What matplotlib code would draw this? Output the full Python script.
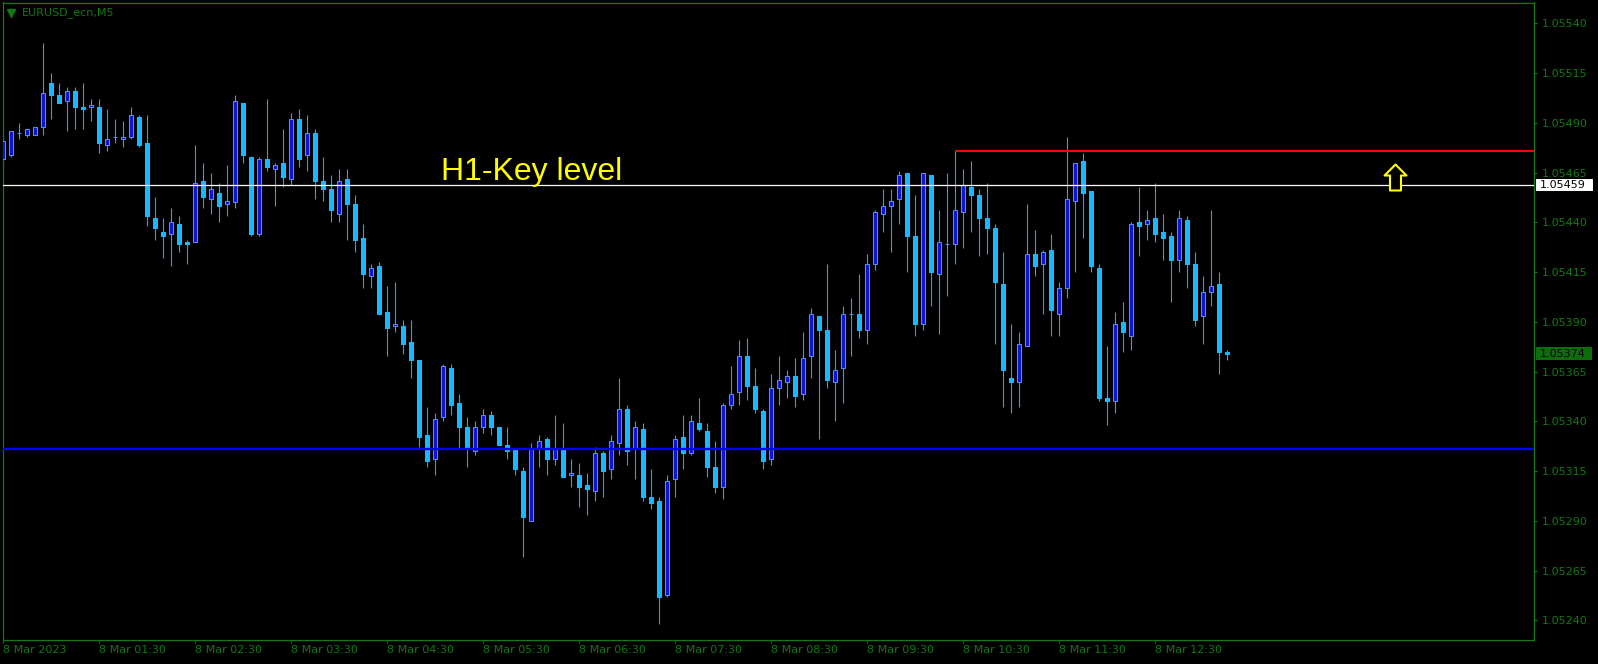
#! /usr/bin/env python3

# EURUSD_ecn M5 candles with a couple of drawn levels (MT4 style chart)

import numpy as np
import matplotlib
matplotlib.use("Agg")
import matplotlib.pyplot as plt
from matplotlib.path import Path
from matplotlib.patches import Rectangle
from matplotlib.transforms import blended_transform_factory

# candle data, one candle every 5 minutes
opens = [1.05472, 1.05474, 1.05485, 1.05484, 1.05484, 1.05488, 1.05510, 1.05504, 1.05501, 1.05506,
         1.05498, 1.05498, 1.05498, 1.05479, 1.05483, 1.05482, 1.05483, 1.05493, 1.05480, 1.05442,
         1.05435, 1.05434, 1.05439, 1.05430, 1.05430, 1.05461, 1.05452, 1.05455, 1.05449, 1.05450,
         1.05500, 1.05473, 1.05434, 1.05472, 1.05467, 1.05470, 1.05462, 1.05492, 1.05474, 1.05485,
         1.05461, 1.05457, 1.05444, 1.05462, 1.05449, 1.05432, 1.05413, 1.05418, 1.05395, 1.05388,
         1.05388, 1.05380, 1.05371, 1.05333, 1.05321, 1.05342, 1.05367, 1.05349, 1.05337, 1.05325,
         1.05337, 1.05343, 1.05337, 1.05328, 1.05326, 1.05315, 1.05290, 1.05326, 1.05331, 1.05321,
         1.05326, 1.05313, 1.05313, 1.05308, 1.05305, 1.05324, 1.05316, 1.05329, 1.05346, 1.05326,
         1.05336, 1.05302, 1.05300, 1.05253, 1.05311, 1.05332, 1.05324, 1.05339, 1.05335, 1.05317,
         1.05307, 1.05348, 1.05355, 1.05373, 1.05358, 1.05345, 1.05321, 1.05357, 1.05360, 1.05363,
         1.05354, 1.05373, 1.05393, 1.05386, 1.05360, 1.05367, 1.05394, 1.05394, 1.05386, 1.05419,
         1.05444, 1.05448, 1.05452, 1.05465, 1.05433, 1.05389, 1.05464, 1.05414, 1.05429, 1.05429,
         1.05445, 1.05458, 1.05454, 1.05442, 1.05437, 1.05409, 1.05362, 1.05360, 1.05378, 1.05424,
         1.05419, 1.05426, 1.05394, 1.05407, 1.05451, 1.05471, 1.05456, 1.05417, 1.05352, 1.05350,
         1.05390, 1.05383, 1.05440, 1.05439, 1.05442, 1.05435, 1.05433, 1.05421, 1.05441, 1.05419,
         1.05393, 1.05405, 1.05409, 1.05375]
highs = [1.05484, 1.05486, 1.05490, 1.05487, 1.05488, 1.05530, 1.05515, 1.05510, 1.05508, 1.05508,
         1.05510, 1.05502, 1.05502, 1.05497, 1.05492, 1.05491, 1.05498, 1.05494, 1.05494, 1.05453,
         1.05442, 1.05447, 1.05443, 1.05431, 1.05479, 1.05470, 1.05465, 1.05460, 1.05469, 1.05504,
         1.05500, 1.05473, 1.05473, 1.05502, 1.05470, 1.05487, 1.05495, 1.05497, 1.05494, 1.05487,
         1.05473, 1.05464, 1.05467, 1.05467, 1.05454, 1.05439, 1.05419, 1.05420, 1.05408, 1.05410,
         1.05391, 1.05391, 1.05371, 1.05347, 1.05344, 1.05369, 1.05369, 1.05354, 1.05342, 1.05340,
         1.05346, 1.05345, 1.05337, 1.05337, 1.05326, 1.05317, 1.05329, 1.05333, 1.05332, 1.05343,
         1.05339, 1.05321, 1.05319, 1.05314, 1.05327, 1.05325, 1.05333, 1.05362, 1.05348, 1.05340,
         1.05339, 1.05316, 1.05302, 1.05313, 1.05333, 1.05343, 1.05343, 1.05352, 1.05339, 1.05330,
         1.05349, 1.05368, 1.05381, 1.05382, 1.05367, 1.05346, 1.05364, 1.05373, 1.05366, 1.05372,
         1.05385, 1.05397, 1.05393, 1.05419, 1.05376, 1.05398, 1.05402, 1.05414, 1.05424, 1.05446,
         1.05457, 1.05457, 1.05466, 1.05465, 1.05454, 1.05465, 1.05464, 1.05446, 1.05465, 1.05476,
         1.05467, 1.05471, 1.05457, 1.05460, 1.05439, 1.05425, 1.05389, 1.05385, 1.05449, 1.05436,
         1.05426, 1.05434, 1.05410, 1.05483, 1.05470, 1.05475, 1.05456, 1.05419, 1.05378, 1.05395,
         1.05400, 1.05440, 1.05458, 1.05446, 1.05460, 1.05444, 1.05435, 1.05446, 1.05443, 1.05425,
         1.05413, 1.05446, 1.05415, 1.05376]
lows = [1.05468, 1.05473, 1.05482, 1.05483, 1.05484, 1.05484, 1.05492, 1.05500, 1.05486, 1.05487,
        1.05487, 1.05491, 1.05475, 1.05476, 1.05480, 1.05478, 1.05482, 1.05478, 1.05438, 1.05431,
        1.05422, 1.05418, 1.05425, 1.05419, 1.05430, 1.05447, 1.05444, 1.05440, 1.05443, 1.05447,
        1.05470, 1.05433, 1.05433, 1.05466, 1.05448, 1.05458, 1.05459, 1.05468, 1.05466, 1.05452,
        1.05451, 1.05440, 1.05440, 1.05431, 1.05425, 1.05407, 1.05407, 1.05394, 1.05373, 1.05385,
        1.05374, 1.05362, 1.05327, 1.05317, 1.05313, 1.05340, 1.05343, 1.05326, 1.05317, 1.05323,
        1.05334, 1.05333, 1.05328, 1.05321, 1.05313, 1.05272, 1.05290, 1.05317, 1.05313, 1.05318,
        1.05312, 1.05307, 1.05297, 1.05293, 1.05300, 1.05302, 1.05311, 1.05323, 1.05318, 1.05311,
        1.05300, 1.05296, 1.05238, 1.05252, 1.05302, 1.05316, 1.05323, 1.05335, 1.05312, 1.05304,
        1.05301, 1.05346, 1.05348, 1.05351, 1.05344, 1.05316, 1.05318, 1.05348, 1.05352, 1.05347,
        1.05351, 1.05362, 1.05331, 1.05357, 1.05340, 1.05349, 1.05373, 1.05382, 1.05379, 1.05416,
        1.05435, 1.05425, 1.05439, 1.05415, 1.05383, 1.05386, 1.05398, 1.05384, 1.05403, 1.05419,
        1.05427, 1.05435, 1.05423, 1.05424, 1.05379, 1.05347, 1.05344, 1.05347, 1.05378, 1.05413,
        1.05394, 1.05383, 1.05383, 1.05402, 1.05415, 1.05432, 1.05415, 1.05350, 1.05338, 1.05344,
        1.05375, 1.05376, 1.05423, 1.05431, 1.05430, 1.05421, 1.05400, 1.05415, 1.05407, 1.05388,
        1.05379, 1.05398, 1.05364, 1.05371]
closes = [1.05481, 1.05486, 1.05485, 1.05487, 1.05488, 1.05505, 1.05504, 1.05500, 1.05506, 1.05498,
          1.05497, 1.05499, 1.05480, 1.05482, 1.05483, 1.05483, 1.05494, 1.05479, 1.05443, 1.05437,
          1.05433, 1.05440, 1.05429, 1.05429, 1.05460, 1.05453, 1.05457, 1.05448, 1.05451, 1.05501,
          1.05474, 1.05434, 1.05472, 1.05468, 1.05469, 1.05463, 1.05492, 1.05472, 1.05485, 1.05461,
          1.05457, 1.05446, 1.05461, 1.05449, 1.05431, 1.05414, 1.05417, 1.05394, 1.05387, 1.05389,
          1.05379, 1.05371, 1.05332, 1.05320, 1.05341, 1.05368, 1.05348, 1.05337, 1.05326, 1.05337,
          1.05343, 1.05337, 1.05328, 1.05325, 1.05316, 1.05292, 1.05326, 1.05330, 1.05321, 1.05326,
          1.05312, 1.05314, 1.05307, 1.05306, 1.05324, 1.05315, 1.05330, 1.05346, 1.05325, 1.05337,
          1.05302, 1.05299, 1.05252, 1.05310, 1.05331, 1.05324, 1.05340, 1.05336, 1.05317, 1.05307,
          1.05348, 1.05354, 1.05373, 1.05358, 1.05346, 1.05320, 1.05357, 1.05361, 1.05363, 1.05353,
          1.05372, 1.05394, 1.05386, 1.05361, 1.05366, 1.05394, 1.05394, 1.05386, 1.05419, 1.05445,
          1.05448, 1.05451, 1.05464, 1.05433, 1.05389, 1.05465, 1.05415, 1.05430, 1.05429, 1.05446,
          1.05459, 1.05454, 1.05442, 1.05437, 1.05410, 1.05366, 1.05360, 1.05379, 1.05424, 1.05418,
          1.05425, 1.05396, 1.05407, 1.05452, 1.05470, 1.05455, 1.05418, 1.05352, 1.05350, 1.05389,
          1.05385, 1.05439, 1.05438, 1.05441, 1.05434, 1.05432, 1.05421, 1.05442, 1.05419, 1.05391,
          1.05405, 1.05408, 1.05375, 1.05374]

time_ticks = [0, 12, 24, 36, 48, 60, 72, 84, 96, 108, 120, 132, 144]
time_labels = ["8 Mar 2023", "8 Mar 01:30", "8 Mar 02:30", "8 Mar 03:30", "8 Mar 04:30",
               "8 Mar 05:30", "8 Mar 06:30", "8 Mar 07:30", "8 Mar 08:30", "8 Mar 09:30",
               "8 Mar 10:30", "8 Mar 11:30", "8 Mar 12:30"]
price_ticks = [1.05240, 1.05265, 1.05290, 1.05315, 1.05340, 1.05365, 1.05390,
               1.05415, 1.05440, 1.05465, 1.05490, 1.05515, 1.05540]

key_level = 1.05459      # white line
resistance = 1.05476     # red line, drawn from candle 119
resistance_start = 119
support = 1.05326        # blue line
last_price = 1.05374
arrow_idx = 174
arrow_price = 1.05463

# colours
bg = "black"
green = "#117a11"
bull_face = "#0a14dc"
bull_edge = "#5a8ee6"
bear_face = "#1ab8ff"
wick_col = "#5a8ee6"

W, H = 1598, 664
fig = plt.figure(figsize=(W / 100, H / 100), dpi=100, facecolor=bg)
ax = fig.add_axes([2.7 / W, 24 / H, 1531.6 / W, 637.5 / H], facecolor=bg)

o = np.array(opens)
h = np.array(highs)
l = np.array(lows)
c = np.array(closes)
idx = np.arange(len(o))
up = c >= o

# wicks then bodies
ax.vlines(idx, l, h, color=wick_col, lw=0.8, zorder=2)
ax.bar(idx[up], c[up] - o[up], bottom=o[up], width=0.5,
       color=bull_face, edgecolor=bull_edge, linewidth=0.75, zorder=3)
ax.bar(idx[~up], c[~up] - o[~up], bottom=o[~up], width=0.5,
       color=bear_face, edgecolor=bear_face, linewidth=0.75, zorder=3)

# levels
ax.axhline(key_level, color="white", lw=0.9, zorder=4)
ax.axhline(support, color="#0000ff", lw=1.7, zorder=4)
x_right = 191.375
ax.hlines(resistance, resistance_start, x_right, color="#ff0000", lw=1.5, zorder=4)

ax.text(54.7, key_level + 0.000022, "H1-Key level", color="#ffff00",
        fontsize=23, family="Liberation Sans", va="baseline", ha="left", zorder=5)

# hollow up arrow
arrow = Path([(0, 13), (11, 2), (5.5, 2), (5.5, -13), (-5.5, -13), (-5.5, 2), (-11, 2), (0, 13)],
             [Path.MOVETO] + [Path.LINETO] * 6 + [Path.CLOSEPOLY])
ax.plot([arrow_idx], [arrow_price], marker=arrow, markersize=18.7, mfc="black",
        mec="#ffff00", mew=1.5, ls="none", zorder=6)

ax.set_xlim(-0.075, x_right)
ax.set_ylim(1.0523015, 1.055505)

for s in ax.spines.values():
    s.set_color(green)
    s.set_linewidth(0.9)

ax.yaxis.tick_right()
ax.set_yticks(price_ticks)
ax.set_yticklabels(["%.5f" % p for p in price_ticks])
ax.set_xticks(time_ticks)
ax.set_xticklabels(time_labels)
for lab in ax.get_xticklabels():
    lab.set_ha("left")
ax.tick_params(axis="both", colors=green, labelcolor=green, labelsize=8,
               length=2.2, width=0.8, direction="out")
ax.tick_params(axis="y", pad=3)
ax.tick_params(axis="x", pad=1.5)

# chart caption
ax.plot([0.0054], [0.9843], marker="v", ms=5.5, color=green, transform=ax.transAxes,
        clip_on=False, ls="none")
ax.text(0.0124, 0.9843, "EURUSD_ecn,M5", color=green, fontsize=8,
        transform=ax.transAxes, va="center", ha="left")

# price labels on the right scale
tr = blended_transform_factory(fig.transFigure, ax.transData)
ax.add_patch(Rectangle((1536 / W, key_level - 0.00003), 57 / W, 0.00006,
                       transform=tr, facecolor="white", edgecolor="none", clip_on=False, zorder=7))
ax.text(1539.5 / W, key_level, "%.5f" % key_level, transform=tr, color="black",
        fontsize=8, va="center", ha="left", zorder=8)
ax.add_patch(Rectangle((1536 / W, last_price - 0.000033), 56 / W, 0.000066,
                       transform=tr, facecolor="#0b6e0b", edgecolor="none", clip_on=False, zorder=7))
ax.text(1539.5 / W, last_price, "%.5f" % last_price, transform=tr, color="black",
        fontsize=8, va="center", ha="left", zorder=8)

plt.savefig("out.png", dpi=100, facecolor=bg)
